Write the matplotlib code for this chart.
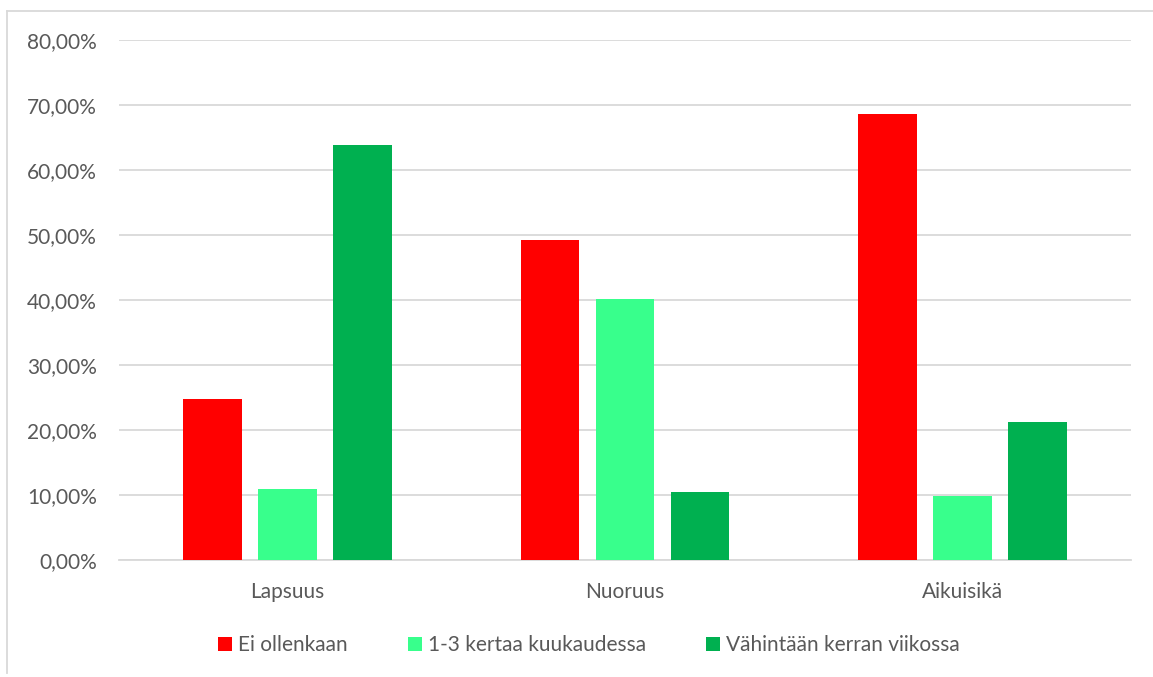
import numpy as np
import matplotlib.pyplot as plt
from matplotlib.lines import Line2D
from matplotlib.ticker import FuncFormatter

categories = ['Lapsuus', 'Nuoruus', 'Aikuisikä']
series_names = ['Ei ollenkaan', '1-3 kertaa kuukaudessa', 'Vähintään kerran viikossa']
ei_ollenkaan = [24.8, 49.2, 68.6]
kuukausittain = [10.9, 40.1, 9.8]
viikoittain = [63.9, 10.5, 21.3]
colors = ['#FF0000', '#38FF8C', '#00B050']

plt.rcParams['font.family'] = ['Lato', 'DejaVu Sans']
text_col = '#595959'
grid_col = '#D9D9D9'

fig = plt.figure(figsize=(11.53, 6.77), dpi=100)
ax = fig.add_axes([0.1032, 0.1728, 0.8777, 0.7681])

x = np.arange(len(categories))
width = 0.174
offs = [-0.222, 0, 0.222]
for vals, name, c, o in zip([ei_ollenkaan, kuukausittain, viikoittain], series_names, colors, offs):
    ax.bar(x + o, vals, width, color=c, label=name, zorder=3)

ax.set_xlim(-0.5, 2.5)
ax.set_ylim(0, 80)
ax.set_yticks(np.arange(0, 81, 10))
ax.yaxis.set_major_formatter(FuncFormatter(lambda v, p: f'{v:.2f}%'.replace('.', ',')))
ax.set_xticks(x)
ax.set_xticklabels(categories)
ax.grid(axis='y', color=grid_col, linewidth=1.3, zorder=0)
for s in ['top', 'right', 'left']:
    ax.spines[s].set_visible(False)
ax.spines['bottom'].set_color(grid_col)
ax.spines['bottom'].set_linewidth(1.3)
ax.tick_params(axis='both', length=0, labelsize=15, colors=text_col)
ax.tick_params(axis='y', pad=16)
ax.tick_params(axis='x', pad=16)

leg = fig.legend(loc='center', bbox_to_anchor=(0.511, 0.047), ncol=3, frameon=False,
                 fontsize=15, handlelength=0.65, handleheight=0.65, handletextpad=0.3,
                 columnspacing=2.9)
for t in leg.get_texts():
    t.set_color(text_col)

# chart area border
fig.add_artist(Line2D([7 / 1153, 1], [1 - 11 / 677, 1 - 11 / 677], transform=fig.transFigure, color=grid_col, lw=1.3))
fig.add_artist(Line2D([7 / 1153, 7 / 1153], [1 - 11 / 677, 4 / 677], transform=fig.transFigure, color=grid_col, lw=1.3))

fig.savefig('out.png', dpi=100)
